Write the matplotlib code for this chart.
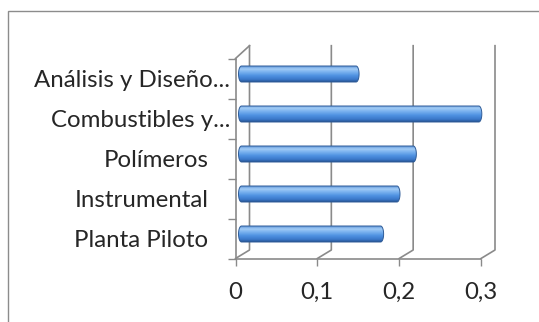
import matplotlib
matplotlib.use("Agg")
import matplotlib.pyplot as plt
import matplotlib.transforms as mtransforms
from matplotlib.patches import Rectangle, Polygon
from matplotlib.lines import Line2D
from matplotlib.colors import LinearSegmentedColormap
import numpy as np

# ---------------- data ----------------
categories = ["Planta Piloto", "Instrumental", "Polímeros",
              "Combustibles y...", "Análisis y Diseño..."]
values = [0.17, 0.19, 0.21, 0.29, 0.14]
x_ticks = [0, 0.1, 0.2, 0.3]
x_tick_labels = ["0", "0,1", "0,2", "0,3"]

# ---------------- style ----------------
W, H, DPI = 539, 322, 100
FONT = ["Lato", "DejaVu Sans"]
TXT = "#262626"
GRID = "#8a8a8a"
FS = 17.3
plt.rcParams["font.family"] = FONT

fig = plt.figure(figsize=(W / DPI, H / DPI), dpi=DPI)
fig.patch.set_facecolor("white")

def fx(px):
    return px / W

def fy(py):
    return 1 - py / H

front_left, front_right = 235.5, 481.0
front_floor, front_top = 258.5, 58.5
ax = fig.add_axes([fx(front_left), fy(front_floor),
                   (front_right - front_left) / W, (front_floor - front_top) / H])
ax.patch.set_visible(False)
ax.set_xlim(x_ticks[0], x_ticks[-1])
ax.set_ylim(-0.5, len(categories) - 0.5)

for name, sp in ax.spines.items():
    if name in ("left", "bottom"):
        sp.set_color(GRID)
        sp.set_linewidth(1.2)
    else:
        sp.set_visible(False)

# x ticks
ax.set_xticks(x_ticks, x_tick_labels)
ax.tick_params(axis="x", length=5.2, width=1.0, color=GRID, pad=11.5,
               labelsize=FS, labelcolor=TXT)
# y: labels at category centres, tick marks at boundaries
ypos = np.arange(len(categories))
ax.set_yticks(ypos, categories)
ax.set_yticks(np.arange(len(categories) + 1) - 0.5, minor=True)
ax.tick_params(axis="y", which="major", length=0, labelsize=FS, labelcolor=TXT)
ax.tick_params(axis="y", which="minor", length=5.8, width=1.0, color=GRID)
for tick, lab in zip(ax.yaxis.get_major_ticks(), categories):
    tick.set_pad(4.0 if lab.endswith("...") else 19.5)

# ---------------- cylinders ----------------
bar_dx, bar_dy = 6, 4.5           # depth offset of the bar plane (pixels)
cap_px = 3.0                       # half width of the elliptical end caps
half_h = 0.2                       # half bar thickness (category units)
bar_tr = mtransforms.offset_copy(ax.transData, fig=fig, x=bar_dx, y=bar_dy, units="dots")
px_per_x = (front_right - front_left) / (x_ticks[-1] - x_ticks[0])
cap = cap_px / px_per_x

grad_cmap = LinearSegmentedColormap.from_list(
    "cyl", [(0.0, "#5f96da"), (0.18, "#a2cbf5"), (0.35, "#7db4f0"),
            (0.6, "#4f92e2"), (0.85, "#3a77c8"), (1.0, "#255391")])
grad = np.linspace(0, 1, 64).reshape(-1, 1)

ang_l = np.linspace(np.pi / 2, 3 * np.pi / 2, 30)
ang_r = np.linspace(-np.pi / 2, np.pi / 2, 30)
for yc, v in zip(ypos, values):
    xs = np.concatenate([0 + cap * np.cos(ang_l), v + cap * np.cos(ang_r)])
    ys = np.concatenate([yc + half_h * np.sin(ang_l), yc + half_h * np.sin(ang_r)])
    shape = Polygon(np.column_stack([xs, ys]), closed=True, facecolor="none",
                    edgecolor="#2f5c98", linewidth=0.7, transform=bar_tr,
                    zorder=3, clip_on=False)
    ax.add_patch(shape)
    im = ax.imshow(grad, cmap=grad_cmap, aspect="auto", interpolation="bilinear",
                   extent=[-cap, v + cap, yc - half_h, yc + half_h],
                   origin="upper", transform=bar_tr, zorder=2)
    im.set_clip_box(None)
    im.set_clip_path(shape)

ax.set_xlim(x_ticks[0], x_ticks[-1])
ax.set_ylim(-0.5, len(categories) - 0.5)
ax.set_aspect("auto")

# ---------------- 3-D walls / gridlines ----------------
back_dx, back_dy_floor, back_dy_top = 14, 8.5, 12.8
ident = mtransforms.IdentityTransform()
y_lo, y_hi = -0.5, len(categories) - 0.5
for xt in x_ticks:
    fxp, fyp = ax.transData.transform((xt, y_lo))
    _, tyf = ax.transData.transform((xt, y_hi))
    fig.add_artist(Line2D([fxp, fxp + back_dx, fxp + back_dx],
                          [fyp, fyp + back_dy_floor, tyf + back_dy_top],
                          transform=ident, color=GRID, lw=1.2, zorder=-1))
# top edge of left wall
lx, ty = ax.transData.transform((x_ticks[0], y_hi))
fig.add_artist(Line2D([lx, lx + back_dx], [ty, ty + back_dy_top], transform=ident,
                      color=GRID, lw=1.2, zorder=-1))

# outer chart border
fig.add_artist(Rectangle((fx(8.3), fy(400)), fx(600), fy(11) - fy(400),
                         transform=fig.transFigure, facecolor="none",
                         edgecolor="#8c8c8c", lw=1.0, zorder=5))

fig.savefig("out.png", dpi=DPI)
